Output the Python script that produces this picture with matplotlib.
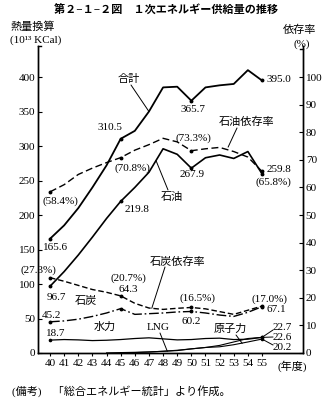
import numpy as np
import matplotlib.pyplot as plt

plt.rcParams['font.family'] = ['Liberation Serif', 'Noto Sans CJK JP']

# data (fiscal years, Showa)
years = np.arange(40, 56)
total = [165.6, 185, 210, 240, 272, 310.5, 322, 350, 385, 386, 365.7, 385, 388, 390, 410, 395.0]
oil = [96.7, 118, 142, 168, 195, 219.8, 240, 262, 296, 288, 267.9, 283, 287, 282, 292, 259.8]
oil_dep = [58.4, 61, 64.7, 67, 69, 70.8, 73.5, 75.5, 77.8, 76.5, 73.3, 74, 74.5, 73, 71, 65.8]
coal = [45.2, 46.5, 49, 53, 58, 64.3, 56, 57, 58, 59.5, 60.2, 58, 55, 53, 59, 67.1]
coal_dep = [27.3, 26, 24.5, 23, 22, 20.7, 18, 16.3, 15.8, 16.2, 16.5, 16, 15, 14, 15.5, 17.0]
hydro = [18.7, 19.5, 19, 18, 18.5, 19.5, 21, 22, 20.5, 19, 19.5, 21, 21.5, 19.5, 20, 22.6]
years_lng = np.arange(44, 56)
lng = [0.2, 0.6, 1, 1.5, 2.5, 3.5, 6, 8, 11, 16, 21, 22.7]
years_nuc = np.arange(45, 56)
nuclear = [0.3, 0.6, 1.5, 2.5, 4, 6, 8, 9, 12, 16, 20.2]

W, H = 333, 398
fig = plt.figure(figsize=(W / 100, H / 100), dpi=100)
ax = fig.add_axes([38 / W, 1 - 353 / H, (303 - 38) / W, (353 - 46) / H])
ax2 = ax.twinx()

ax.set_xlim(39.15, 57.9)
ax.set_ylim(0, 445)
ax2.set_ylim(0, 445 / 4)

k = 'black'
mk = dict(marker='o', markersize=1.8, markevery=[0, 5, 10, 15])
ax.plot(years, total, color=k, lw=1.3, **mk)
ax.plot(years, oil, color=k, lw=1.2, **mk)
ax2.plot(years, oil_dep, color=k, lw=1.0, dashes=(5, 2.5), **mk)
ax.plot(years, coal, color=k, lw=1.0, dashes=(7, 2, 1.2, 2), **mk)
ax2.plot(years, coal_dep, color=k, lw=1.0, dashes=(4, 2), **mk)
ax.plot(years, hydro, color=k, lw=0.9, marker='o', markersize=1.6, markevery=[0, 15])
ax.plot(years_lng, lng, color=k, lw=0.8, marker='o', markersize=1.6, markevery=[-1])
ax.plot(years_nuc, nuclear, color=k, lw=0.8, marker='o', markersize=1.6, markevery=[-1])

# axes styling
for a in (ax, ax2):
    a.spines['top'].set_visible(False)
    a.spines['left'].set_linewidth(1.0)
    a.spines['right'].set_linewidth(1.0)
    a.spines['bottom'].set_linewidth(1.0)
ax.set_xticks(years)
ax.set_xticklabels([str(y) for y in years], fontsize=8)
ax.tick_params(axis='x', direction='out', length=2.5, width=0.8, pad=1.5)
ax.set_yticks(np.arange(0, 401, 50))
ax.tick_params(axis='y', direction='in', length=3, width=0.8, labelsize=8, pad=2)
ax2.set_yticks(np.arange(0, 101, 10))
ax2.tick_params(axis='y', direction='in', length=3, width=0.8, labelsize=8, pad=2)

# top hooks of the two vertical axes
ax.plot([0, 0.012], [1, 1], color=k, lw=1.0, transform=ax.transAxes, clip_on=False)
ax.plot([1, 0.988], [0.99, 0.99], color=k, lw=1.0, transform=ax.transAxes, clip_on=False)


def fp(x, y):
    return (x / W, 1 - y / H)


def lab(x, y, s, ha='center', size=8):
    fig.text(*fp(x, y), s, ha=ha, va='center', fontsize=size)


def lead(xd, yd, tx, ty, a=ax):
    a.annotate('', xy=(xd, yd), xycoords='data', xytext=fp(tx, ty),
               textcoords='figure fraction',
               arrowprops=dict(arrowstyle='-', lw=0.7, color=k, shrinkA=0, shrinkB=0))


fig.text(0.5, 1 - 10 / H, '第２−１−２図　１次エネルギー供給量の推移', ha='center', va='center',
         fontsize=8, fontweight='bold')
lab(33, 27, '熱量換算')
lab(36, 40, '(10¹³ KCal)')
lab(300, 30, '依存率')
lab(302, 44, '(%)')
lab(278, 366, '(年度)', ha='left')
lab(12, 391, '(備考)　「総合エネルギー統計」より作成。', ha='left')

# annotations
lab(129, 79, '合計')
lead(47.0, total[7], 131, 85)
lab(110, 128, '310.5')
lab(60, 201, '(58.4%)')
lab(132, 168, '(70.8%)')
lab(172, 197, '石油')
lead(47.5, 279, 168, 190)
lab(137, 210, '219.8')
lab(193, 109, '365.7')
lab(279, 79, '395.0')
lab(247, 122, '石油依存率')
lead(52.6, 74.6, 237, 128, a=ax2)
lab(193, 138, '(73.3%)')
lab(192, 175, '267.9')
lab(279, 170, '259.8')
lab(273, 182, '(65.8%)')
lab(56, 247, '165.6')
lab(38, 270, '(27.3%)')
lab(56, 297, '96.7')
lab(86, 301, '石炭')
lab(128, 278, '(20.7%)')
lab(128, 289, '64.3')
lab(178, 262, '石炭依存率')
lead(47.2, 16.2, 165, 267, a=ax2)
lab(51, 316, '45.2')
lab(105, 327, '水力')
lab(56, 334, '18.7')
lab(158, 327, 'LNG')
lead(48.3, lng[4], 160, 333)
lab(198, 298, '(16.5%)')
lab(191, 322, '60.2')
lab(270, 299, '(17.0%)')
lab(276, 310, '67.1')
lab(230, 329, '原子力')
lead(53.6, 14, 236, 335)
lab(282, 327, '22.7')
lead(55, lng[-1], 273, 330)
lab(282, 337, '22.6')
lead(55, hydro[-1], 273, 337)
lab(282, 347, '20.2')
lead(55, nuclear[-1], 273, 345)

fig.savefig('out.png', dpi=100)
